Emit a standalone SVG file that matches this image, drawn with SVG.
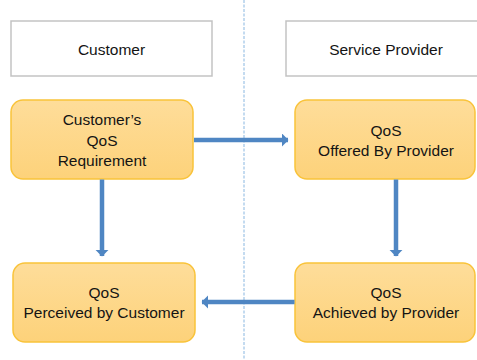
<svg xmlns="http://www.w3.org/2000/svg" width="477" height="360" viewBox="0 0 477 360">
<defs>
<linearGradient id="gold" x1="0" y1="0" x2="0" y2="1">
<stop offset="0" stop-color="#fedd9a"/>
<stop offset="1" stop-color="#fdd27a"/>
</linearGradient>
<marker id="ah" markerWidth="3" markerHeight="3" refX="1.4" refY="1.5" orient="auto" markerUnits="strokeWidth">
<path d="M0,0 L1.5,1.5 L0,3 Z" fill="#4f86c3"/>
</marker>
<style>
.hdr{fill:#fff;stroke:#c3c3c3;stroke-width:1.5}
.node{fill:url(#gold);stroke:#f9c33a;stroke-width:1.5}
.t{font-family:"Liberation Sans",Arial,sans-serif;font-size:15.5px;fill:#141414;text-anchor:middle}
.arr{stroke:#4f86c3;stroke-width:4.5;fill:none}
</style>
</defs>
<line x1="244" y1="0" x2="244" y2="360" stroke="#9dc3e6" stroke-width="1.2" stroke-dasharray="3,1.5"/>
<g id="customer">
<rect class="hdr" x="11" y="21" width="201" height="55"/>
<text class="t" x="111.5" y="55">Customer</text>
</g>
<g id="provider">
<rect class="hdr" x="286" y="21" width="200" height="55"/>
<text class="t" x="386" y="55">Service Provider</text>
</g>
<g id="requirement">
<rect class="node" x="11" y="100" width="182" height="79" rx="12"/>
<text class="t" x="102" y="125">Customer’s</text>
<text class="t" x="102" y="145.5">QoS</text>
<text class="t" x="102" y="166">Requirement</text>
</g>
<g id="offered">
<rect class="node" x="295" y="100" width="180" height="79" rx="12"/>
<text class="t" x="386" y="136">QoS</text>
<text class="t" x="386" y="156">Offered By Provider</text>
</g>
<g id="perceived">
<rect class="node" x="13" y="263" width="182" height="79" rx="12"/>
<text class="t" x="104" y="298">QoS</text>
<text class="t" x="104" y="318">Perceived by Customer</text>
</g>
<g id="achieved">
<rect class="node" x="295" y="263" width="180" height="79" rx="12"/>
<text class="t" x="386" y="298">QoS</text>
<text class="t" x="386" y="318">Achieved by Provider</text>
</g>
<g id="connectors">
<line class="arr" x1="194" y1="140" x2="288" y2="140" marker-end="url(#ah)"/>
<line class="arr" x1="102" y1="179.5" x2="102" y2="256" marker-end="url(#ah)"/>
<line class="arr" x1="396" y1="179.5" x2="396" y2="256" marker-end="url(#ah)"/>
<line class="arr" x1="294.5" y1="302" x2="202" y2="302" marker-end="url(#ah)"/>
</g>
</svg>
